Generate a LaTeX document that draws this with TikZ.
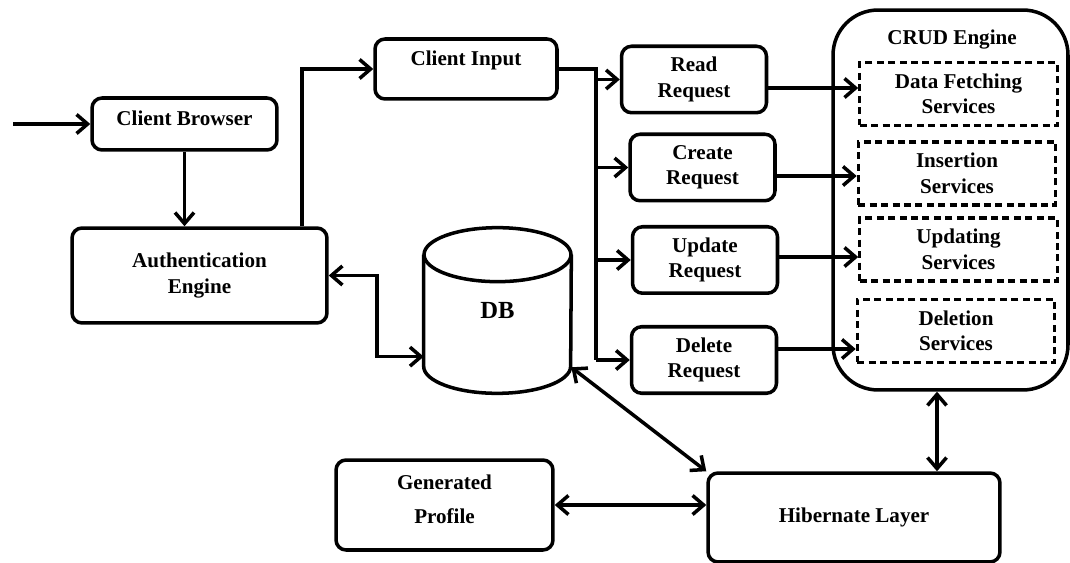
\documentclass[tikz,border=0pt]{standalone}
\usepackage{fontspec}
\setmainfont{Liberation Serif}
\usetikzlibrary{arrows.meta}
\tikzset{
  bx/.style={draw,line width=2pt,rounded corners=2mm,align=center,inner sep=0pt,font=\bfseries\fontsize{12}{14.5}\selectfont},
  rq/.style={bx,minimum width=2.9cm,minimum height=1.33cm},
  sv/.style={draw,line width=1.8pt,dash pattern=on 4pt off 2.5pt,align=center,inner sep=0pt,minimum width=3.95cm,minimum height=1.26cm,font=\bfseries\fontsize{12}{14.5}\selectfont},
  ar/.style={line width=2pt},
  lift/.style={text depth=#1}
}
\begin{document}
\begin{tikzpicture}[x=0.02cm,y=-0.02cm,>={Straight Barb[length=2.2mm,width=3.8mm]}]
    \useasboundingbox (0,0) rectangle (1070,563);
    % entry and authentication
    \node[bx,lift=7pt,minimum width=3.7cm,minimum height=1.04cm] (cb) at (184.5,124) {Client Browser};
    \node[bx,minimum width=5.1cm,minimum height=1.9cm] (ae) at (199.5,275.5) {Authentication\\Engine};
    \node[bx,lift=12.5pt,minimum width=3.64cm,minimum height=1.2cm] (ci) at (466,69) {Client Input};
    % database drum
    \node[minimum width=2.94cm,minimum height=3.3cm,font=\bfseries\fontsize{14}{16}\selectfont] (db) at (497.5,310.5) {DB};
    \draw[ar] ([yshift=-0.54cm]db.north) ellipse[x radius=1.47cm,y radius=0.54cm];
    \draw[ar] ([yshift=-0.54cm]db.north west) -- ([yshift=0.54cm]db.south west)
      arc[start angle=180,end angle=360,x radius=1.47cm,y radius=0.54cm] -- ([yshift=-0.54cm]db.north east);
    % requests
    \node[rq] (rr) at (694,79.5) {Read\\Request};
    \node[rq] (cr) at (702.5,167.5) {Create\\Request};
    \node[rq] (ur) at (705,260) {Update\\Request};
    \node[rq] (dr) at (704,360) {Delete\\Request};
    % crud engine
    \node[draw,line width=2pt,rounded corners=9mm,minimum width=4.7cm,minimum height=7.6cm] (crud) at (950.5,200) {};
    \node[font=\bfseries\fontsize{12}{14.5}\selectfont] (ct) at (952,40) {CRUD Engine};
    \node[sv] (df) at (958.5,94) {Data Fetching\\Services};
    \node[sv] (is) at (957,173.5) {Insertion\\Services};
    \node[sv] (us) at (958.5,249.5) {Updating\\Services};
    \node[sv] (ds) at (956,331) {Deletion\\Services};
    % bottom row
    \node[bx,lift=7pt,minimum width=4.34cm,minimum height=1.8cm] (gp) at (444.5,505) {Generated\\[5pt]Profile};
    \node[bx,minimum width=5.84cm,minimum height=1.78cm] (hl) at (854,517.5) {Hibernate Layer};
    % connectors
    \coordinate (src) at (13,124);
    \coordinate (rise) at (302,0);
    \coordinate (bus) at (596,0);
    \coordinate (jn) at (377,0);
    \coordinate (v) at (937,0);
    \draw[ar,->] (src) -- (cb.west);
    \draw[ar,->] (cb.south) -- (cb.south |- ae.north);
    \draw[ar,->] (ae.north -| rise) |- (ci.west);
    \draw[ar] (ci.east) -- (ci.east -| bus) -- (bus |- dr.west);
    \foreach \r in {rr,cr,ur,dr}
      \draw[ar,->] (bus |- \r.west) -- (\r.west);
    \foreach \r/\s/\y in {rr/df/88,cr/is/176,ur/us/257,dr/ds/349}{
      \coordinate (h) at (0,\y);
      \draw[ar,->] (\r.east |- h) -- (\s.west |- h);
    }
    \draw[ar,<->] (ae.east) -| (jn |- db.212) -- (db.212);
    \draw[ar,<->] (db) -- (hl.north west);
    \draw[ar,<->] (gp.east) -- (gp.east -| hl.west);
    \draw[ar,<->] (v |- crud.south) -- (v |- hl.north);
\end{tikzpicture}
\end{document}
